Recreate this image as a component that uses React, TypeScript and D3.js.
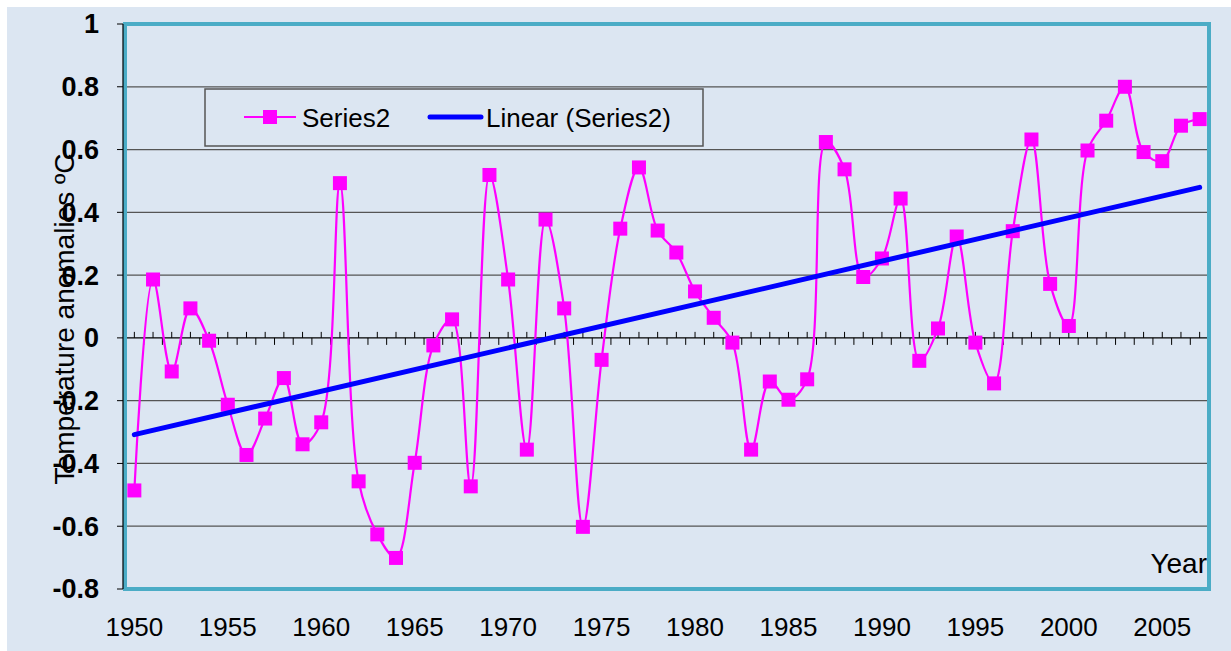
import React, {useEffect, useRef} from 'react';
import * as d3 from 'd3';

// yearly temperature anomalies, 1950 .. 2007
const firstYear = 1950;
const anomalies = [
    -0.486, 0.186, -0.107, 0.094, -0.009, -0.213, -0.373, -0.257, -0.128, -0.339,
    -0.269, 0.493, -0.457, -0.626, -0.701, -0.398, -0.024, 0.059, -0.473, 0.519,
    0.186, -0.356, 0.377, 0.094, -0.602, -0.070, 0.348, 0.543, 0.342, 0.272,
    0.148, 0.064, -0.015, -0.356, -0.139, -0.197, -0.132, 0.624, 0.537, 0.194,
    0.253, 0.444, -0.073, 0.030, 0.323, -0.015, -0.145, 0.340, 0.632, 0.172,
    0.038, 0.597, 0.692, 0.800, 0.592, 0.563, 0.676, 0.697
];
const yearLabels = [1950, 1955, 1960, 1965, 1970, 1975, 1980, 1985, 1990, 1995, 2000, 2005];
const yTicks = [1, 0.8, 0.6, 0.4, 0.2, 0, -0.2, -0.4, -0.6, -0.8];
const seriesName = 'Series2';
const trendName = 'Linear (Series2)';

export default function App() {
    const svgRef = useRef<SVGSVGElement>(null);

    useEffect(() => {
        const W = 1231, H = 651;
        const svg = d3.select(svgRef.current);
        svg.selectAll('*').remove();
        svg.attr('width', W).attr('height', H);

        const data = anomalies.map((v, i) => ({year: firstYear + i, value: v}));
        const left = 125, right = 1209, top = 24, bottom = 589;

        const x = d3.scaleLinear().domain([1949.5, 2007.5]).range([left, right]);
        const y = d3.scaleLinear().domain([-0.8, 1]).range([bottom, top]);

        svg.append('rect')
            .attr('x', 7).attr('y', 7)
            .attr('width', W - 7).attr('height', H - 7)
            .attr('fill', '#DCE6F2');

        // grid lines
        svg.append('g')
            .selectAll('line')
            .data(yTicks.filter(t => t !== 0 && t !== 1 && t !== -0.8))
            .enter()
            .append('line')
            .attr('x1', left).attr('x2', right)
            .attr('y1', d => y(d)).attr('y2', d => y(d))
            .attr('stroke', '#555')
            .attr('stroke-width', 1.3);

        // zero line with year ticks
        const zero = svg.append('g');
        zero.append('line')
            .attr('x1', left).attr('x2', right)
            .attr('y1', y(0)).attr('y2', y(0))
            .attr('stroke', '#000').attr('stroke-width', 1.2);
        zero.selectAll('.up')
            .data(data)
            .enter()
            .append('line')
            .attr('x1', d => x(d.year)).attr('x2', d => x(d.year))
            .attr('y1', y(0) - 6).attr('y2', y(0))
            .attr('stroke', '#000').attr('stroke-width', 1);
        zero.selectAll('.down')
            .data(data)
            .enter()
            .append('line')
            .attr('x1', d => x(d.year + 0.5)).attr('x2', d => x(d.year + 0.5))
            .attr('y1', y(0)).attr('y2', y(0) + 7)
            .attr('stroke', '#000').attr('stroke-width', 1);

        // y axis
        svg.append('line')
            .attr('x1', left - 1).attr('x2', left - 1)
            .attr('y1', top).attr('y2', bottom)
            .attr('stroke', '#000').attr('stroke-width', 1.2);
        svg.append('g')
            .selectAll('line')
            .data(yTicks)
            .enter()
            .append('line')
            .attr('x1', left - 8).attr('x2', left)
            .attr('y1', d => y(d)).attr('y2', d => y(d))
            .attr('stroke', '#000').attr('stroke-width', 1);
        svg.append('g')
            .selectAll('text')
            .data(yTicks)
            .enter()
            .append('text')
            .attr('x', 99)
            .attr('y', d => y(d))
            .attr('dy', '0.35em')
            .attr('text-anchor', 'end')
            .attr('font-family', 'Liberation Sans, Arial, sans-serif')
            .attr('font-size', '27px')
            .attr('font-weight', 'bold')
            .attr('fill', '#000')
            .text(d => String(d));

        // x labels
        svg.append('g')
            .selectAll('text')
            .data(yearLabels)
            .enter()
            .append('text')
            .attr('x', d => x(d))
            .attr('y', 636)
            .attr('text-anchor', 'middle')
            .attr('font-family', 'Liberation Sans, Arial, sans-serif')
            .attr('font-size', '26px')
            .attr('fill', '#000')
            .text(d => String(d));

        // axis titles
        svg.append('text')
            .attr('transform', `translate(74,319) rotate(-90)`)
            .attr('text-anchor', 'middle')
            .attr('font-family', 'Liberation Sans, Arial, sans-serif')
            .attr('font-size', '28px')
            .attr('fill', '#000')
            .text('Temperature anomalies ºC');
        svg.append('text')
            .attr('x', 1207)
            .attr('y', 573)
            .attr('text-anchor', 'end')
            .attr('font-family', 'Liberation Sans, Arial, sans-serif')
            .attr('font-size', '28px')
            .attr('fill', '#000')
            .text('Year');

        // linear trend (least squares)
        const mx = d3.mean(data, d => d.year)!;
        const my = d3.mean(data, d => d.value)!;
        const slope = d3.sum(data, d => (d.year - mx) * (d.value - my)) / d3.sum(data, d => (d.year - mx) ** 2);
        const trend = [data[0].year, data[data.length - 1].year].map(yr => ({year: yr, value: my + slope * (yr - mx)}));

        // series
        const line = d3.line<{year: number, value: number}>()
            .x(d => x(d.year))
            .y(d => y(d.value))
            .curve(d3.curveCatmullRom.alpha(0.5));
        svg.append('path')
            .datum(data)
            .attr('fill', 'none')
            .attr('stroke', '#FF00FF')
            .attr('stroke-width', 2.2)
            .attr('d', line);

        svg.selectAll('.dot')
            .data(data)
            .enter()
            .append('rect')
            .attr('class', 'dot')
            .attr('x', d => x(d.year) - 7)
            .attr('y', d => y(d.value) - 7)
            .attr('width', 14).attr('height', 14)
            .attr('fill', '#FF00FF');

        svg.append('path')
            .datum(trend)
            .attr('fill', 'none')
            .attr('stroke', '#0000FF')
            .attr('stroke-width', 5)
            .attr('stroke-linecap', 'round')
            .attr('d', d3.line<{year: number, value: number}>().x(d => x(d.year)).y(d => y(d.value)));

        // plot border
        svg.append('rect')
            .attr('x', left).attr('y', top)
            .attr('width', right - left).attr('height', bottom - top)
            .attr('fill', 'none')
            .attr('stroke', '#4BACC6')
            .attr('stroke-width', 4);
        svg.append('line')
            .attr('x1', left - 2).attr('x2', left - 2)
            .attr('y1', top).attr('y2', bottom)
            .attr('stroke', '#000').attr('stroke-width', 1.2);

        // legend
        const lg = svg.append('g');
        lg.append('rect')
            .attr('x', 205).attr('y', 89)
            .attr('width', 498).attr('height', 57)
            .attr('fill', 'none')
            .attr('stroke', '#555')
            .attr('stroke-width', 1.5);
        lg.append('line')
            .attr('x1', 244).attr('x2', 296)
            .attr('y1', 117).attr('y2', 117)
            .attr('stroke', '#FF00FF').attr('stroke-width', 2.2);
        lg.append('rect')
            .attr('x', 263).attr('y', 110)
            .attr('width', 14).attr('height', 14)
            .attr('fill', '#FF00FF');
        lg.append('text')
            .attr('x', 302).attr('y', 127)
            .attr('font-family', 'Liberation Sans, Arial, sans-serif')
            .attr('font-size', '26px')
            .attr('fill', '#000')
            .text(seriesName);
        lg.append('line')
            .attr('x1', 430).attr('x2', 481)
            .attr('y1', 117).attr('y2', 117)
            .attr('stroke', '#0000FF').attr('stroke-width', 5)
            .attr('stroke-linecap', 'round');
        lg.append('text')
            .attr('x', 486).attr('y', 127)
            .attr('font-family', 'Liberation Sans, Arial, sans-serif')
            .attr('font-size', '26px')
            .attr('fill', '#000')
            .text(trendName);
    }, []);

    return (
        <svg ref={svgRef} style={{position: 'absolute', left: 0, top: 0, display: 'block'}}></svg>
    );
}
